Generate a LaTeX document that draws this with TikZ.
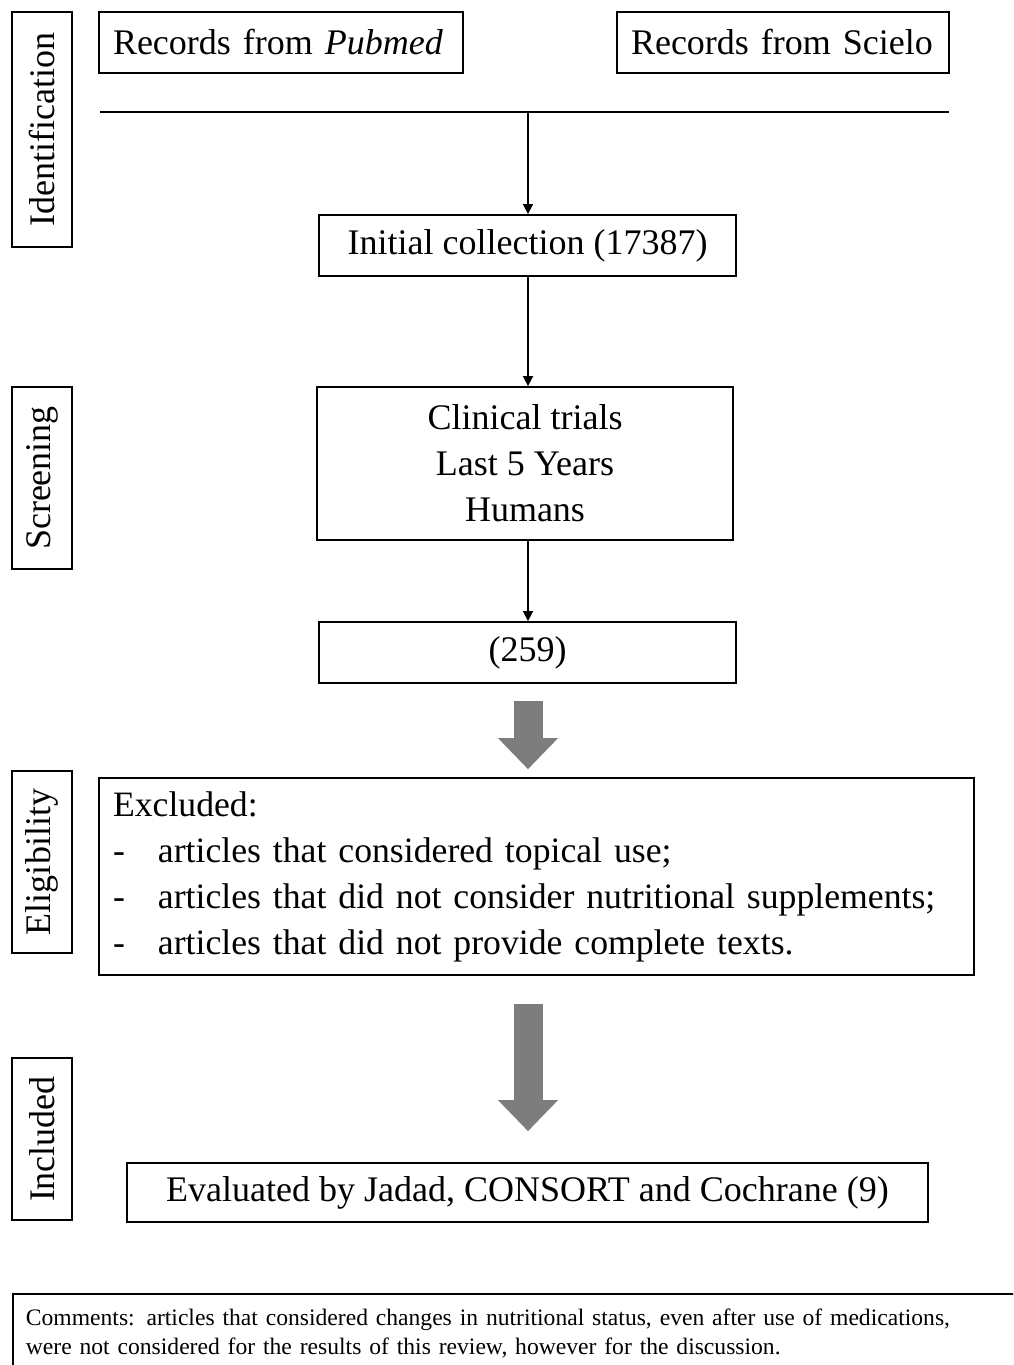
\documentclass[tikz,border=0pt]{standalone}
\usepackage{fontspec}
\setmainfont{Liberation Serif}
\usetikzlibrary{arrows.meta}
\definecolor{arrowgray}{RGB}{125,125,125}
\tikzset{
  box/.style={draw, line width=1.8pt, inner sep=0pt, font=\fontsize{36}{46}\selectfont, align=center},
  srcbox/.style={box, minimum height=61pt, align=left, inner xsep=14pt},
  phase/.style={box, rotate=90, minimum height=60pt},
  thin/.style={line width=1.6pt, -{Triangle[length=10pt,width=10pt]}},
  fat/.style={draw=arrowgray, line width=29pt, -{Triangle[width=60pt,length=31pt,line width=0pt]}}
}
\begin{document}
\begin{tikzpicture}[x=1pt,y=-1pt]
\clip (0,0) rectangle (1013,1365);
% phase labels
\node[phase, minimum width=235pt] (idl) at (42,129.5) {Identification};
\node[phase, minimum width=182pt] (scl) at (42,478) {Screening};
\node[phase, minimum width=182pt] (ell) at (42,862) {Eligibility};
\node[phase, minimum width=162pt] (inl) at (42,1139) {Included};
% sources
\node[srcbox, text width=336pt] (pub) at (281,42.5) {Records from \textit{Pubmed}};
\node[srcbox, text width=304pt] (sci) at (783,42.5) {Records from Scielo};
\coordinate (hl) at (100,112);
\coordinate (hr) at (949,112);
\coordinate (hm) at (528,112);
\draw[line width=1.8pt] (hl) -- (hr);
% flow
\node[box, minimum width=417pt, minimum height=61pt] (init) at (527.5,245.5) {Initial collection (17387)};
\node[box, minimum width=416pt, minimum height=153pt] (clin) at (525,463.5) {Clinical trials\\Last 5 Years\\Humans};
\node[box, minimum width=417pt, minimum height=61pt] (n259) at (527.5,652.5) {(259)};
\node[box, minimum width=875pt, minimum height=197pt, text width=847pt, align=left,
  font=\fontsize{35.7}{46}\selectfont] (excl) at (536.5,876.5)
  {Excluded:\\
   \makebox[45pt][l]{-}articles that considered topical use;\\
   \makebox[45pt][l]{-}articles that did not consider nutritional supplements;\\
   \makebox[45pt][l]{-}articles that did not provide complete texts.};
\node[box, minimum width=801pt, minimum height=59pt] (eval) at (527.5,1192.5) {Evaluated by Jadad, CONSORT and Cochrane (9)};
\node[box, anchor=north west, minimum width=1020pt, minimum height=80pt, text width=994pt, align=left,
  font=\fontsize{23.6}{29}\selectfont] (com) at (12,1293)
  {Comments: articles that considered changes in nutritional status, even after use of medications,\\
   were not considered for the results of this review, however for the discussion.};
% connectors
\draw[thin] (hm) -- (hm |- init.north);
\draw[thin] (hm |- init.south) -- (hm |- clin.north);
\draw[thin] (hm |- clin.south) -- (hm |- n259.north);
\draw[fat, shorten <=17pt, shorten >=8pt] (hm |- n259.south) -- (hm |- excl.north);
\draw[fat, shorten <=28pt, shorten >=31pt] (hm |- excl.south) -- (hm |- eval.north);
\end{tikzpicture}
\end{document}
